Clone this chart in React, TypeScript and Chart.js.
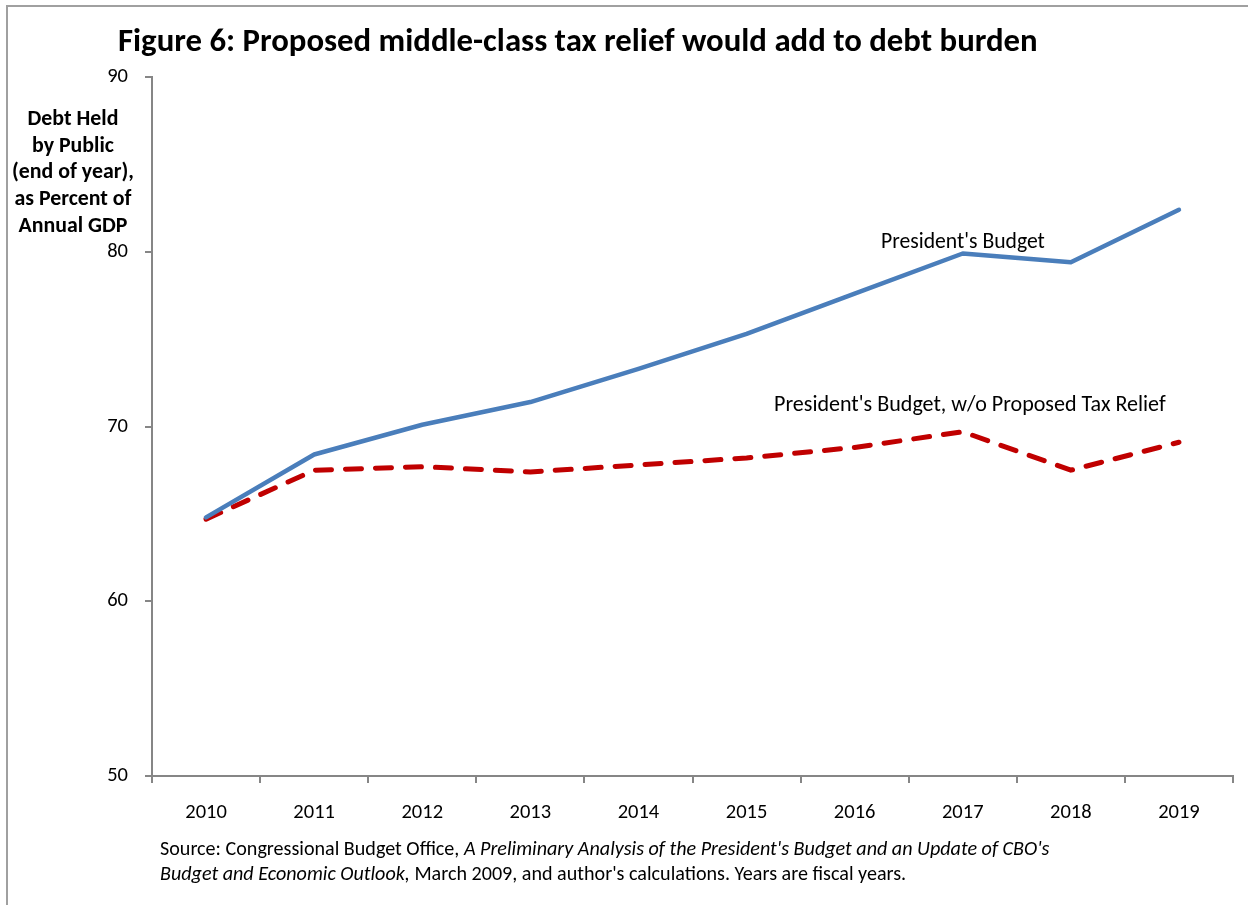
import React, { useEffect, useRef } from 'react';
import { Chart, registerables } from 'chart.js';

Chart.register(...registerables);

// ---------- data ----------
const categories = ['2010', '2011', '2012', '2013', '2014', '2015', '2016', '2017', '2018', '2019'];
const presidentsBudget = [64.8, 68.4, 70.1, 71.4, 73.3, 75.3, 77.6, 79.9, 79.4, 82.4];
const withoutTaxRelief = [64.7, 67.5, 67.7, 67.4, 67.8, 68.2, 68.8, 69.7, 67.5, 69.1];
const yMin = 50;
const yMax = 90;
const yStep = 10;

const titleText = 'Figure 6: Proposed middle-class tax relief would add to debt burden';
const yLabelLines = ['Debt Held', 'by Public', '(end of year),', 'as Percent of', 'Annual GDP'];
const seriesLabels = ["President's Budget", "President's Budget, w/o Proposed Tax Relief"];
const sourceLine1 = [
  { text: 'Source: Congressional Budget Office, ', italic: false },
  { text: "A Preliminary Analysis of the President's Budget and an Update of CBO's", italic: true },
];
const sourceLine2 = [
  { text: 'Budget and Economic Outlook,', italic: true },
  { text: " March 2009, and author's calculations. Years are fiscal years.", italic: false },
];

const FAMILY = 'Carlito, Lato, "Open Sans", sans-serif';

function fitSize(ctx: CanvasRenderingContext2D, text: string, weight: string, style: string, target: number) {
  ctx.font = `${style} ${weight} 100px ${FAMILY}`;
  const w = ctx.measureText(text).width;
  return (100 * target) / w;
}

function segWidth(ctx: CanvasRenderingContext2D, segs: { text: string; italic: boolean }[], size: number) {
  let w = 0;
  for (const s of segs) {
    ctx.font = `${s.italic ? 'italic' : 'normal'} normal ${size}px ${FAMILY}`;
    w += ctx.measureText(s.text).width;
  }
  return w;
}

function drawSegs(ctx: CanvasRenderingContext2D, segs: { text: string; italic: boolean }[], size: number, x: number, y: number) {
  let cx = x;
  for (const s of segs) {
    ctx.font = `${s.italic ? 'italic' : 'normal'} normal ${size}px ${FAMILY}`;
    ctx.fillText(s.text, cx, y);
    cx += ctx.measureText(s.text).width;
  }
}

const figureTextPlugin = {
  id: 'figureText',
  afterDraw(chart: any) {
    const ctx: CanvasRenderingContext2D = chart.ctx;
    ctx.save();
    // outer frame (top & left visible)
    ctx.strokeStyle = '#a0a0a0';
    ctx.lineWidth = 2;
    ctx.beginPath();
    ctx.moveTo(7, 905);
    ctx.lineTo(7, 6);
    ctx.lineTo(1248, 6);
    ctx.stroke();

    ctx.fillStyle = '#000';
    ctx.textBaseline = 'alphabetic';

    // title
    const ts = fitSize(ctx, titleText, 'bold', 'normal', 920);
    ctx.font = `normal bold ${ts}px ${FAMILY}`;
    ctx.textAlign = 'left';
    ctx.fillText(titleText, 118, 51);

    // y-axis label
    const ys = fitSize(ctx, yLabelLines[2], 'bold', 'normal', 122);
    ctx.font = `normal bold ${ys}px ${FAMILY}`;
    ctx.textAlign = 'center';
    const baselines = [125, 152, 178, 205, 232];
    yLabelLines.forEach((l, i) => ctx.fillText(l, 73, baselines[i]));

    // series annotations
    ctx.textAlign = 'left';
    const a1 = fitSize(ctx, seriesLabels[0], 'normal', 'normal', 164);
    ctx.font = `normal normal ${a1}px ${FAMILY}`;
    ctx.fillText(seriesLabels[0], 881, 248);
    const a2 = fitSize(ctx, seriesLabels[1], 'normal', 'normal', 392);
    ctx.font = `normal normal ${a2}px ${FAMILY}`;
    ctx.fillText(seriesLabels[1], 774, 411);

    // source
    const w100 = segWidth(ctx, sourceLine1, 100);
    const ss = (100 * 890) / w100;
    drawSegs(ctx, sourceLine1, ss, 160, 855);
    drawSegs(ctx, sourceLine2, ss, 160, 880);

    ctx.restore();
  },
};

export default function App() {
  const ref = useRef<HTMLCanvasElement | null>(null);

  useEffect(() => {
    if (!ref.current) return;
    const axisColor = '#868686';
    const tickFont = { family: FAMILY, size: 20.5 };
    const chart = new Chart(ref.current, {
      type: 'line',
      data: {
        labels: categories,
        datasets: [
          {
            label: seriesLabels[0],
            data: presidentsBudget,
            borderColor: '#4A7EBB',
            borderWidth: 4.5,
            pointRadius: 0,
            tension: 0,
            fill: false,
            borderCapStyle: 'round',
            borderJoinStyle: 'round',
          },
          {
            label: seriesLabels[1],
            data: withoutTaxRelief,
            borderColor: '#C00000',
            borderWidth: 5,
            borderDash: [16, 14],
            pointRadius: 0,
            tension: 0,
            fill: false,
            borderCapStyle: 'round',
            borderJoinStyle: 'round',
          },
        ],
      },
      options: {
        responsive: false,
        animation: false,
        devicePixelRatio: 1,
        layout: { padding: { top: 77, right: 15, left: 0, bottom: 0 } },
        plugins: {
          legend: { display: false },
          tooltip: { enabled: false },
          title: { display: false },
        },
        scales: {
          x: {
            type: 'category',
            offset: true,
            grid: {
              offset: true,
              drawOnChartArea: false,
              drawTicks: true,
              tickLength: 7,
              color: axisColor,
              lineWidth: 2,
            },
            border: { display: true, color: axisColor, width: 2 },
            ticks: { color: '#000', font: tickFont, padding: 18, maxRotation: 0, autoSkip: false },
            afterFit: (s: any) => {
              s.height = 129;
            },
          },
          y: {
            min: yMin,
            max: yMax,
            grid: {
              drawOnChartArea: false,
              drawTicks: true,
              tickLength: 7,
              color: axisColor,
              lineWidth: 2,
            },
            border: { display: true, color: axisColor, width: 2 },
            ticks: { stepSize: yStep, color: '#000', font: tickFont, padding: 17 },
            afterFit: (s: any) => {
              s.width = 152;
            },
          },
        },
      } as any,
      plugins: [figureTextPlugin],
    });
    return () => chart.destroy();
  }, []);

  return (
    <div style={{ position: 'absolute', left: 0, top: 0, width: 1248, height: 905, background: '#fff' }}>
      <canvas ref={ref} width={1248} height={905} style={{ display: 'block', width: 1248, height: 905 }} />
    </div>
  );
}
